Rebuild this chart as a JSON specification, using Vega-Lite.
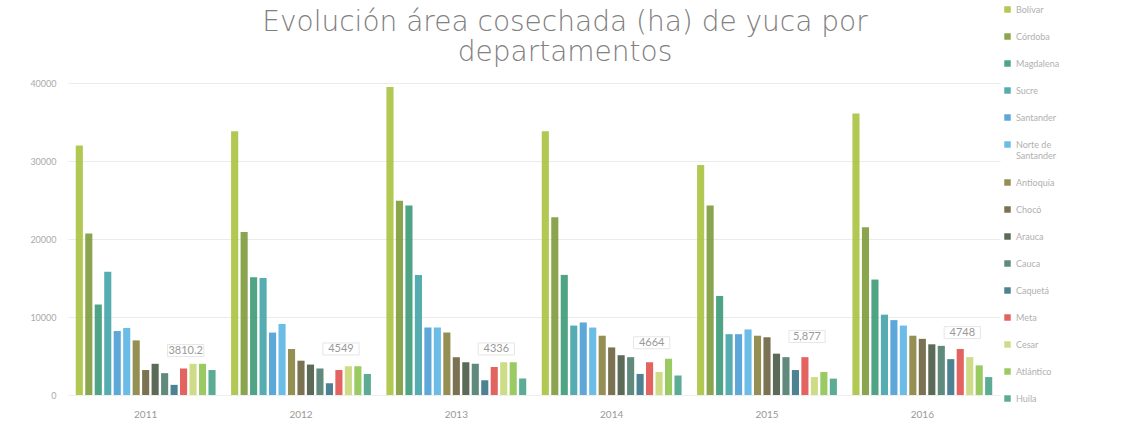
{
  "$schema": "https://vega.github.io/schema/vega-lite/v6.json",
  "width": 932,
  "height": 312,
  "autosize": {"type": "none"},
  "padding": {"left": 68, "top": 83, "right": 148, "bottom": 39},
  "background": "white",
  "title": {
    "text": ["Evolución área cosechada (ha) de yuca por", "departamentos"],
    "font": "'DejaVu Sans ExtraLight', 'DejaVu Sans'",
    "fontSize": 28,
    "fontWeight": 200,
    "color": "#808080",
    "lineHeight": 30,
    "anchor": "middle",
    "dx": 31,
    "dy": 90,
    "offset": 28
  },
  "config": {
    "view": {"stroke": null},
    "font": "Lato",
    "axis": {"labelFont": "Lato", "labelColor": "#999999", "titleColor": "#999999"}
  },
  "datasets": {
    "area": [
      {"anio": "2011", "departamento": "Bolívar", "ha": 32000},
      {"anio": "2011", "departamento": "Córdoba", "ha": 20700},
      {"anio": "2011", "departamento": "Magdalena", "ha": 11600},
      {"anio": "2011", "departamento": "Sucre", "ha": 15800},
      {"anio": "2011", "departamento": "Santander", "ha": 8200},
      {"anio": "2011", "departamento": "Norte de Santander", "ha": 8600},
      {"anio": "2011", "departamento": "Antioquia", "ha": 7000},
      {"anio": "2011", "departamento": "Chocó", "ha": 3200},
      {"anio": "2011", "departamento": "Arauca", "ha": 4000},
      {"anio": "2011", "departamento": "Cauca", "ha": 2800},
      {"anio": "2011", "departamento": "Caquetá", "ha": 1300},
      {"anio": "2011", "departamento": "Meta", "ha": 3400},
      {"anio": "2011", "departamento": "Cesar", "ha": 4000},
      {"anio": "2011", "departamento": "Atlántico", "ha": 4000},
      {"anio": "2011", "departamento": "Huila", "ha": 3200},
      {"anio": "2012", "departamento": "Bolívar", "ha": 33800},
      {"anio": "2012", "departamento": "Córdoba", "ha": 20900},
      {"anio": "2012", "departamento": "Magdalena", "ha": 15100},
      {"anio": "2012", "departamento": "Sucre", "ha": 15000},
      {"anio": "2012", "departamento": "Santander", "ha": 8000},
      {"anio": "2012", "departamento": "Norte de Santander", "ha": 9100},
      {"anio": "2012", "departamento": "Antioquia", "ha": 5900},
      {"anio": "2012", "departamento": "Chocó", "ha": 4400},
      {"anio": "2012", "departamento": "Arauca", "ha": 3900},
      {"anio": "2012", "departamento": "Cauca", "ha": 3400},
      {"anio": "2012", "departamento": "Caquetá", "ha": 1500},
      {"anio": "2012", "departamento": "Meta", "ha": 3200},
      {"anio": "2012", "departamento": "Cesar", "ha": 3700},
      {"anio": "2012", "departamento": "Atlántico", "ha": 3700},
      {"anio": "2012", "departamento": "Huila", "ha": 2700},
      {"anio": "2013", "departamento": "Bolívar", "ha": 39500},
      {"anio": "2013", "departamento": "Córdoba", "ha": 24900},
      {"anio": "2013", "departamento": "Magdalena", "ha": 24300},
      {"anio": "2013", "departamento": "Sucre", "ha": 15400},
      {"anio": "2013", "departamento": "Santander", "ha": 8650},
      {"anio": "2013", "departamento": "Norte de Santander", "ha": 8650},
      {"anio": "2013", "departamento": "Antioquia", "ha": 8000},
      {"anio": "2013", "departamento": "Chocó", "ha": 4850},
      {"anio": "2013", "departamento": "Arauca", "ha": 4200},
      {"anio": "2013", "departamento": "Cauca", "ha": 4000},
      {"anio": "2013", "departamento": "Caquetá", "ha": 1900},
      {"anio": "2013", "departamento": "Meta", "ha": 3600},
      {"anio": "2013", "departamento": "Cesar", "ha": 4200},
      {"anio": "2013", "departamento": "Atlántico", "ha": 4200},
      {"anio": "2013", "departamento": "Huila", "ha": 2100},
      {"anio": "2014", "departamento": "Bolívar", "ha": 33800},
      {"anio": "2014", "departamento": "Córdoba", "ha": 22800},
      {"anio": "2014", "departamento": "Magdalena", "ha": 15400},
      {"anio": "2014", "departamento": "Sucre", "ha": 8900},
      {"anio": "2014", "departamento": "Santander", "ha": 9300},
      {"anio": "2014", "departamento": "Norte de Santander", "ha": 8650},
      {"anio": "2014", "departamento": "Antioquia", "ha": 7600},
      {"anio": "2014", "departamento": "Chocó", "ha": 6100},
      {"anio": "2014", "departamento": "Arauca", "ha": 5100},
      {"anio": "2014", "departamento": "Cauca", "ha": 4850},
      {"anio": "2014", "departamento": "Caquetá", "ha": 2700},
      {"anio": "2014", "departamento": "Meta", "ha": 4200},
      {"anio": "2014", "departamento": "Cesar", "ha": 2950},
      {"anio": "2014", "departamento": "Atlántico", "ha": 4650},
      {"anio": "2014", "departamento": "Huila", "ha": 2500},
      {"anio": "2015", "departamento": "Bolívar", "ha": 29500},
      {"anio": "2015", "departamento": "Córdoba", "ha": 24300},
      {"anio": "2015", "departamento": "Magdalena", "ha": 12700},
      {"anio": "2015", "departamento": "Sucre", "ha": 7800},
      {"anio": "2015", "departamento": "Santander", "ha": 7800},
      {"anio": "2015", "departamento": "Norte de Santander", "ha": 8400},
      {"anio": "2015", "departamento": "Antioquia", "ha": 7600},
      {"anio": "2015", "departamento": "Chocó", "ha": 7400},
      {"anio": "2015", "departamento": "Arauca", "ha": 5300},
      {"anio": "2015", "departamento": "Cauca", "ha": 4850},
      {"anio": "2015", "departamento": "Caquetá", "ha": 3200},
      {"anio": "2015", "departamento": "Meta", "ha": 4850},
      {"anio": "2015", "departamento": "Cesar", "ha": 2300},
      {"anio": "2015", "departamento": "Atlántico", "ha": 2950},
      {"anio": "2015", "departamento": "Huila", "ha": 2100},
      {"anio": "2016", "departamento": "Bolívar", "ha": 36100},
      {"anio": "2016", "departamento": "Córdoba", "ha": 21500},
      {"anio": "2016", "departamento": "Magdalena", "ha": 14800},
      {"anio": "2016", "departamento": "Sucre", "ha": 10300},
      {"anio": "2016", "departamento": "Santander", "ha": 9600},
      {"anio": "2016", "departamento": "Norte de Santander", "ha": 8900},
      {"anio": "2016", "departamento": "Antioquia", "ha": 7600},
      {"anio": "2016", "departamento": "Chocó", "ha": 7200},
      {"anio": "2016", "departamento": "Arauca", "ha": 6500},
      {"anio": "2016", "departamento": "Cauca", "ha": 6300},
      {"anio": "2016", "departamento": "Caquetá", "ha": 4600},
      {"anio": "2016", "departamento": "Meta", "ha": 5900},
      {"anio": "2016", "departamento": "Cesar", "ha": 4850},
      {"anio": "2016", "departamento": "Atlántico", "ha": 3800},
      {"anio": "2016", "departamento": "Huila", "ha": 2300}
    ],
    "etiquetas": [
      {"anio": "2011", "pos": 5700, "etiqueta": "3810.2"},
      {"anio": "2012", "pos": 5900, "etiqueta": "4549"},
      {"anio": "2013", "pos": 5900, "etiqueta": "4336"},
      {"anio": "2014", "pos": 6700, "etiqueta": "4664"},
      {"anio": "2015", "pos": 7500, "etiqueta": "5,877"},
      {"anio": "2016", "pos": 8000, "etiqueta": "4748"}
    ]
  },
  "layer": [
    {
      "data": {"name": "area"},
      "mark": {"type": "bar", "opacity": 0.9},
      "encoding": {
        "x": {
          "field": "anio", "type": "nominal", "title": null,
          "scale": {"paddingInner": 0.1, "paddingOuter": 0.05},
          "axis": {"labelAngle": 0, "ticks": false, "domain": true, "domainColor": "#eeeeee", "labelPadding": 14, "labelFontSize": 10, "labelColor": "#999999"}
        },
        "xOffset": {
          "field": "departamento", "type": "nominal",
          "sort": ["Bolívar", "Córdoba", "Magdalena", "Sucre", "Santander", "Norte de Santander", "Antioquia", "Chocó", "Arauca", "Cauca", "Caquetá", "Meta", "Cesar", "Atlántico", "Huila"],
          "scale": {"paddingInner": 0.25, "paddingOuter": 0}
        },
        "y": {
          "field": "ha", "type": "quantitative", "title": null,
          "scale": {"domain": [0, 40000], "nice": false},
          "axis": {"values": [0, 10000, 20000, 30000, 40000], "format": "d", "ticks": false, "domain": false, "gridColor": "#ebebeb", "labelFontSize": 9, "labelColor": "#aaaaaa", "labelPadding": 12}
        },
        "color": {
          "field": "departamento", "type": "nominal",
          "sort": ["Bolívar", "Córdoba", "Magdalena", "Sucre", "Santander", "Norte de Santander", "Antioquia", "Chocó", "Arauca", "Cauca", "Caquetá", "Meta", "Cesar", "Atlántico", "Huila"],
          "scale": {
            "domain": ["Bolívar", "Córdoba", "Magdalena", "Sucre", "Santander", "Norte de Santander", "Antioquia", "Chocó", "Arauca", "Cauca", "Caquetá", "Meta", "Cesar", "Atlántico", "Huila"],
            "range": ["#a9c23f", "#7e9b3c", "#3d9a79", "#42a4a8", "#4b9fd5", "#5cb5e6", "#8a8340", "#6b6340", "#4a5a46", "#4f7d6e", "#3a7486", "#e0524f", "#c9d87a", "#8fc451", "#4aa28a"]
          },
          "legend": {
            "title": null,
            "orient": "none",
            "legendX": 935,
            "legendY": -78,
            "symbolType": "square",
            "symbolSize": 42,
            "labelFontSize": 9,
            "labelColor": "#b0b0b0",
            "rowPadding": 17,
            "labelLimit": 140,
            "labelExpr": "datum.label == 'Norte de Santander' ? ['Norte de', 'Santander'] : datum.label"
          }
        }
      }
    },
    {
      "data": {"name": "etiquetas"},
      "mark": {"type": "point", "shape": "M-1.45,-0.48H1.45V0.48H-1.45Z", "size": 625, "filled": false, "stroke": "#dddddd", "strokeWidth": 1, "xOffset": 40},
      "encoding": {
        "x": {"field": "anio", "type": "nominal"},
        "y": {"field": "pos", "type": "quantitative"}
      }
    },
    {
      "data": {"name": "etiquetas"},
      "mark": {"type": "text", "dx": 40, "fontSize": 11, "color": "#999999", "font": "Lato"},
      "encoding": {
        "x": {"field": "anio", "type": "nominal"},
        "y": {"field": "pos", "type": "quantitative"},
        "text": {"field": "etiqueta"}
      }
    }
  ]
}
